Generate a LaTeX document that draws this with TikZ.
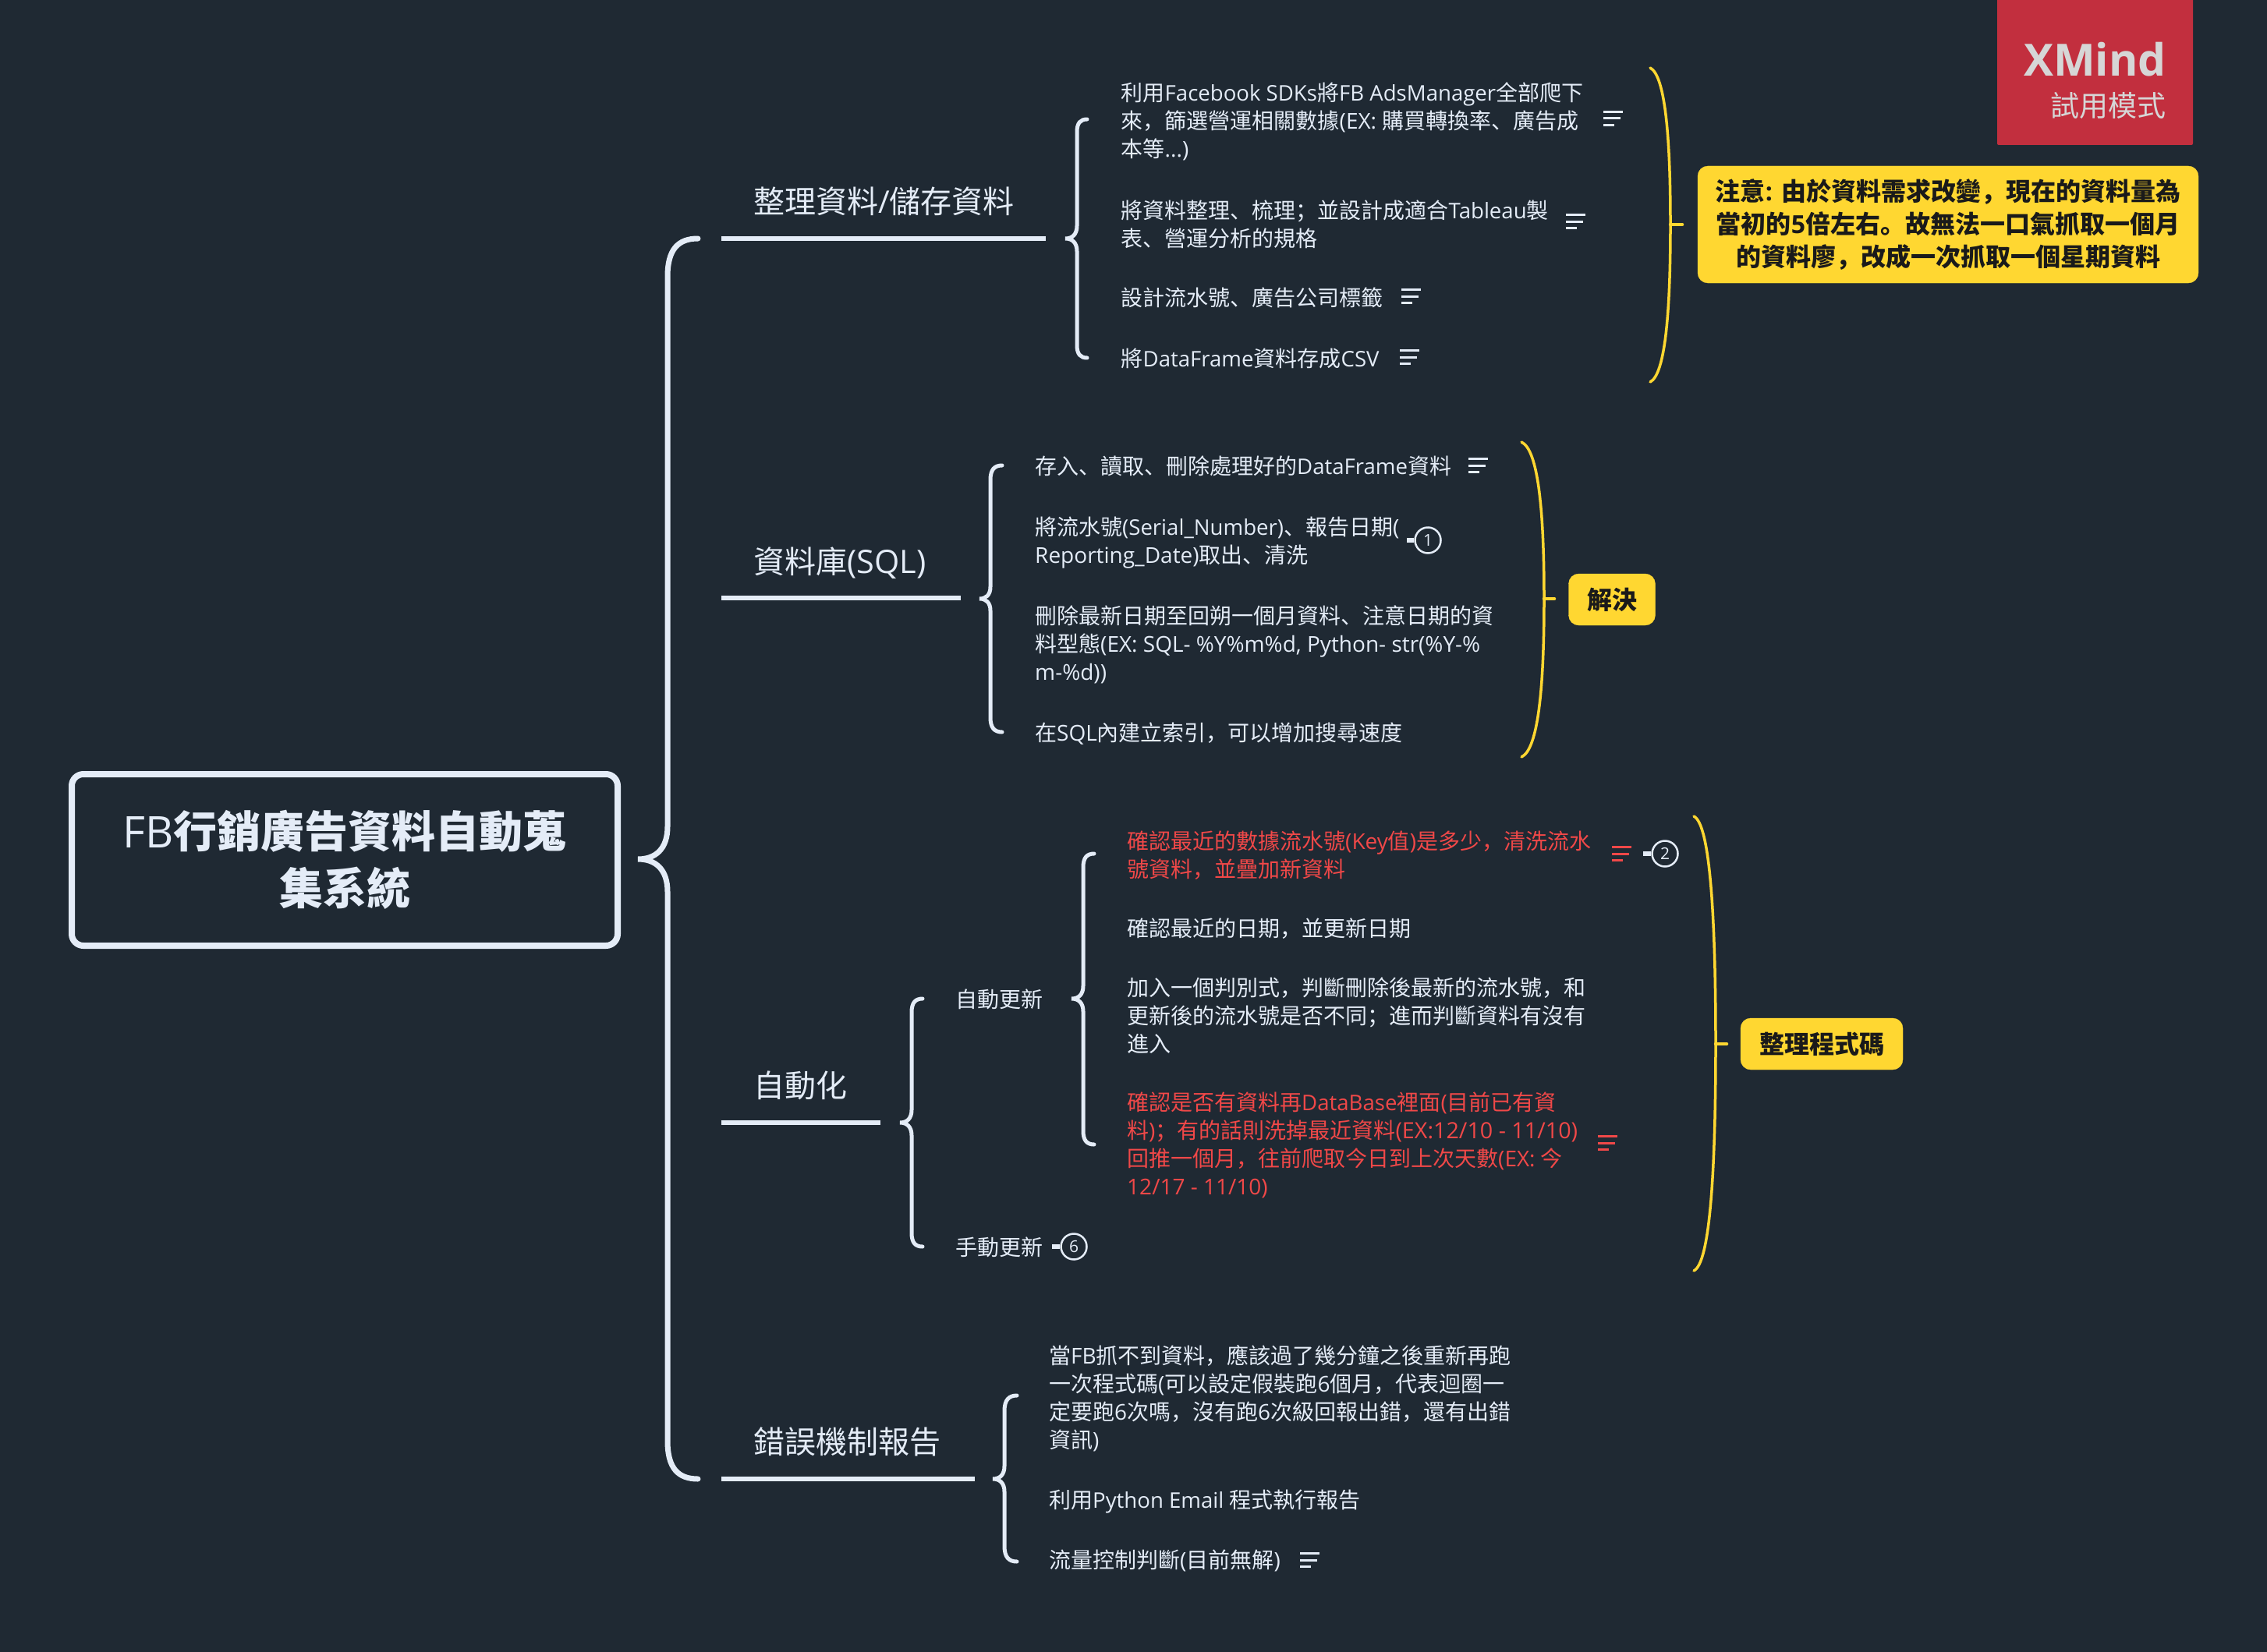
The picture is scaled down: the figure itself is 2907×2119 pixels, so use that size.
\documentclass[tikz,border=0pt]{standalone}
\usepackage{fontspec}
\setmainfont{Noto Sans CJK SC}
\newfontfamily\latf{Open Sans}
\newfontfamily\latn[Scale=0.985]{Open Sans}
\newcommand{\lt}[1]{{\latf #1}}
\newcommand{\lnar}[1]{{\latn #1}}
\definecolor{bgc}{HTML}{1F2933}
\definecolor{linec}{HTML}{E4ECF7}
\definecolor{yelc}{HTML}{FFD731}
\definecolor{redc}{HTML}{F04848}
\definecolor{wmc}{HTML}{C22F3E}
\definecolor{wmt}{HTML}{D6D6D6}
\definecolor{darkt}{HTML}{1A1A1A}
\tikzset{
  x=1pt,y=-1pt,
  topic/.style={anchor=west,inner sep=0pt,text=linec,font=\fontsize{40}{50}\selectfont},
  sub/.style={anchor=west,inner sep=0pt,text=linec,align=left,font=\fontsize{28}{36}\selectfont},
  redsub/.style={sub,text=redc},
  tag/.style={fill=yelc,draw=yelc,rounded corners=13pt,inner sep=0pt,text=darkt,align=center,font=\fontsize{32}{42}\selectfont\bfseries},
  branch/.style={draw=linec,line width=5.5pt},
  yel/.style={draw=yelc,line width=3.5pt,line cap=round},
  marker/.style={circle,draw=linec,fill=bgc,line width=2.5pt,minimum size=33pt,inner sep=0pt,text=linec,font=\fontsize{21}{21}\selectfont\latf},
  stub/.style={draw=linec,line width=6pt},
}
% name, xtip, xstem, xend, ytop, ymid, ybot, width
\newcommand{\bracket}[8]{%
  \pgfmathsetmacro{\brR}{abs(#4-#3)}\pgfmathsetmacro{\brW}{#3-#2}%
  \coordinate (#1top) at (#4,#5);\coordinate (#1tip) at (#2,#6);\coordinate (#1bot) at (#4,#7);%
  \draw[draw=linec,line width=#8pt,line cap=round]
    (#1top) .. controls ({#3+0.35*\brR},#5) and (#3,{#5+0.35*\brR}) .. (#3,{#5+1.25*\brR})
    -- (#3,{#6-1.1*\brW}) .. controls (#3,{#6-0.35*\brW}) and ({#3-0.4*\brW},#6) .. (#1tip)
    .. controls ({#3-0.4*\brW},#6) and (#3,{#6+0.35*\brW}) .. (#3,{#6+1.1*\brW})
    -- (#3,{#7-1.25*\brR}) .. controls (#3,{#7-0.35*\brR}) and ({#3+0.35*\brR},#7) .. (#1bot);}
% name, xend, xbulge, xtick, ytop, ymid, ybot
\newcommand{\yelbrace}[7]{%
  \coordinate (#1top) at (#2,#5);\coordinate (#1mid) at (#3,#6);\coordinate (#1bot) at (#2,#7);\coordinate (#1tick) at (#4,#6);%
  \draw[yel] (#1top) .. controls ({#2+0.75*(#3-#2)},{#5+10}) and (#3,{#5+0.45*(#6-#5)}) .. (#1mid)
     .. controls (#3,{#7-0.45*(#7-#6)}) and ({#2+0.75*(#3-#2)},{#7-10}) .. (#1bot);
  \draw[yel,line width=4.5pt] (#1mid) -- (#1tick);}
% x left, y centre, colour
\newcommand{\noteicon}[3]{%
  \draw[#3,line width=3pt] (#1,#2-8.5) -- ++(25,0);
  \draw[#3,line width=3pt] (#1,#2) -- ++(22,0);
  \draw[#3,line width=3pt] (#1,#2+8.5) -- ++(14,0);}
\begin{document}
\begin{tikzpicture}
\useasboundingbox (0,0) rectangle (2907,2119);
\fill[bgc] (0,0) rectangle (2907,2119);

% watermark
\path[fill=wmc,rounded corners=2pt] (2561,-10) rectangle (2812,186);
\node (wm1) [anchor=east,inner sep=0pt,text=wmt,font=\fontsize{57}{57}\selectfont\latf\bfseries] at (2778,76) {XMind};
\node (wm2) [anchor=east,inner sep=0pt,text=wmt,font=\fontsize{37}{37}\selectfont] at (2778,135) {試用模式};

% central
\node (root) [draw=linec,line width=8pt,rounded corners=15pt,minimum width=700pt,minimum height=220pt,inner sep=0pt,text=linec,align=center,font=\fontsize{56}{73}\selectfont] at (442,1103) {\lt{FB}\textbf{行銷廣告資料自動蒐}\\\textbf{集系統}};
\bracket{mb}{818}{856}{895}{306}{1102}{1897}{7}

% topic 1
\node (t1) [topic] at (966,258) {整理資料\lt{/}儲存資料};
\coordinate (t1a) at (925,306);\coordinate (t1b) at (1341,306);
\draw[branch] (t1a) -- (t1b);
\bracket{b1}{1366}{1381}{1394}{153}{306}{459}{5}
\node (s11) [sub] at (1437.5,156) {利用\lnar{Facebook SDKs}將\lnar{FB AdsManager}全部爬下\\來，篩選營運相關數據\lt{(EX: }購買轉換率、廣告成\\本等\lt{...)}};
\noteicon{2056}{152}{linec}
\node (s12) [sub] at (1437.5,288) {將資料整理、梳理；並設計成適合\lnar{Tableau}製\\表、營運分析的規格};
\noteicon{2008}{284}{linec}
\node (s13) [sub] at (1437.5,382) {設計流水號、廣告公司標籤};
\noteicon{1797}{380}{linec}
\node (s14) [sub] at (1437.5,460) {將\lnar{DataFrame}資料存成\lnar{CSV}};
\noteicon{1795}{458}{linec}
\yelbrace{y1}{2116}{2142}{2157}{87}{288}{490}
\node (c1) [tag,minimum width=642pt,minimum height=150pt] at (2498,288) {注意\lt{: }由於資料需求改變，現在的資料量為\\當初的\lt{5}倍左右。故無法一口氣抓取一個月\\的資料廖，改成一次抓取一個星期資料};

% topic 2
\node (t2) [topic] at (966,722) {資料庫\lt{\fontsize{41.5}{50}\selectfont(SQL)}};
\coordinate (t2a) at (925,767);\coordinate (t2b) at (1232,767);
\draw[branch] (t2a) -- (t2b);
\bracket{b2}{1256}{1270}{1285}{597}{768}{939}{5}
\node (s21) [sub] at (1327,598) {存入、讀取、刪除處理好的\lnar{DataFrame}資料};
\noteicon{1883}{597}{linec}
\node (s22) [sub] at (1327,696) {將流水號\lnar{(Serial\_Number)}、報告日期\lt{(}\\\lt{Reporting\_Date)}取出、清洗};
\node (m1) [marker] at (1831,693) {1};
\coordinate (m1s) at (1804,693);
\draw[stub] (m1s) -- (m1.west);
\node (s23) [sub] at (1327,827) {刪除最新日期至回朔一個月資料、注意日期的資\\料型態\lt{(EX: SQL- \%Y\%m\%d, Python- str(\%Y-\%}\\\lt{m-\%d))}};
\node (s24) [sub] at (1327,941) {在\lt{SQL}內建立索引，可以增加搜尋速度};
\yelbrace{y2}{1951}{1980}{1993}{567}{768}{971}
\node (c2) [tag,minimum width=111pt,minimum height=66pt] at (2067,769) {解決};

% topic 3
\node (t3) [topic] at (966,1392) {自動化};
\coordinate (t3a) at (925,1440);\coordinate (t3b) at (1129,1440);
\draw[branch] (t3a) -- (t3b);
\bracket{b3}{1154}{1169}{1183}{1281}{1440}{1599}{5}
\node (s31) [sub] at (1225,1282) {自動更新};
\node (s32) [sub] at (1225,1600) {手動更新};
\node (m6) [marker] at (1377,1599) {6};
\coordinate (m6s) at (1349,1599);
\draw[stub] (m6s) -- (m6.west);
\bracket{b4}{1374}{1389}{1403}{1095}{1281}{1468}{5}
\node (s41) [redsub] at (1445,1097) {確認最近的數據流水號\lt{(Key}值\lt{)}是多少，清洗流水\\號資料，並疊加新資料};
\noteicon{2067}{1095}{redc}
\node (m2) [marker] at (2135,1095) {2};
\coordinate (m2s) at (2107,1095);
\draw[stub] (m2s) -- (m2.west);
\node (s42) [sub] at (1445,1191) {確認最近的日期，並更新日期};
\node (s43) [sub] at (1445,1303) {加入一個判別式，判斷刪除後最新的流水號，和\\更新後的流水號是否不同；進而判斷資料有沒有\\進入};
\node (s44) [redsub] at (1445,1469) {確認是否有資料再\lnar{DataBase}裡面\lt{(}目前已有資\\料\lt{)}；有的話則洗掉最近資料\lt{\fontsize{28.7}{36}\selectfont(EX:12/10 - 11/10)}\\回推一個月，往前爬取今日到上次天數\lt{(EX: }今\\\lt{12/17 - 11/10)}};
\noteicon{2049}{1466}{redc}
\yelbrace{y3}{2172}{2200}{2214}{1047}{1339}{1630}
\node (c3) [tag,minimum width=208pt,minimum height=66pt] at (2336,1339) {整理程式碼};

% topic 4
\node (t4) [topic] at (966,1849) {錯誤機制報告};
\coordinate (t4a) at (925,1897);\coordinate (t4b) at (1250,1897);
\draw[branch] (t4a) -- (t4b);
\bracket{b5}{1273}{1288}{1304}{1790}{1897}{2003}{5}
\node (s51) [sub] at (1345,1794) {當\lt{FB}抓不到資料，應該過了幾分鐘之後重新再跑\\一次程式碼\lt{(}可以設定假裝跑\lt{6}個月，代表迴圈一\\定要跑\lt{6}次嗎，沒有跑\lt{6}次級回報出錯，還有出錯\\資訊\lt{)}};
\node (s52) [sub] at (1345,1926) {利用\lnar{Python Email }程式執行報告};
\node (s53) [sub] at (1345,2002) {流量控制判斷\lt{(}目前無解\lt{)}};
\noteicon{1667}{2001}{linec}
\end{tikzpicture}
\end{document}
